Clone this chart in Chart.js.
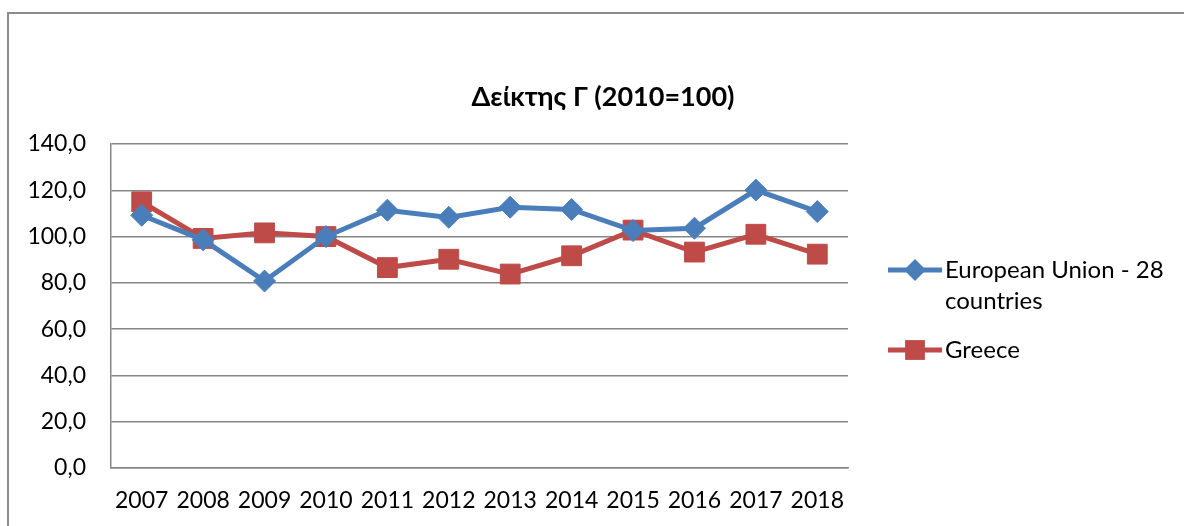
<!DOCTYPE html>
<html><head><meta charset="utf-8">
<script src="https://cdn.jsdelivr.net/npm/chart.js@4"></script>
<style>
html,body{margin:0;padding:0;background:#fff;overflow:hidden}
#wrap{position:relative;width:1184px;height:526px}
#frame{position:absolute;left:7px;top:12px;width:1300px;height:600px;border-left:2px solid #8c8c8c;border-top:2px solid #8c8c8c}
canvas{position:absolute;left:0;top:0}
</style></head>
<body><div id="wrap"><div id="frame"></div><canvas id="c" width="1184" height="526"></canvas></div>
<script>
const years = ['2007','2008','2009','2010','2011','2012','2013','2014','2015','2016','2017','2018'];
const euValues = [109.2, 98.6, 80.8, 100.0, 111.4, 108.3, 112.7, 111.7, 102.6, 103.6, 120.1, 110.8];
const greeceValues = [115.0, 99.2, 101.6, 100.0, 86.6, 90.2, 83.8, 91.7, 102.8, 93.3, 101.0, 92.4];
const seriesNames = [['European Union - 28', 'countries'], ['Greece']];
const titleText = 'Δείκτης Γ (2010=100)';

const FONT = 'Lato, "Open Sans", sans-serif';
const BLUE = '#4A7EBB', RED = '#BE4B48';

const customDraw = {
  id: 'customDraw',
  afterDraw(chart) {
    const ctx = chart.ctx;
    ctx.save();
    ctx.fillStyle = '#000';
    ctx.font = 'bold 27px ' + FONT;
    ctx.textAlign = 'center';
    ctx.textBaseline = 'middle';
    ctx.fillText(titleText, 603, 97);
    const rows = [270, 350];
    chart.data.datasets.forEach((ds, i) => {
      const y = rows[i];
      ctx.strokeStyle = ds.borderColor;
      ctx.lineWidth = ds.borderWidth;
      ctx.beginPath(); ctx.moveTo(888, y); ctx.lineTo(942, y); ctx.stroke();
      ctx.fillStyle = ds.backgroundColor;
      ctx.beginPath();
      if (ds.pointStyle === 'rectRot') {
        const r = ds.pointRadius;
        ctx.moveTo(915, y - r); ctx.lineTo(915 + r, y); ctx.lineTo(915, y + r); ctx.lineTo(915 - r, y); ctx.closePath();
      } else {
        const s = ds.pointRadius * Math.SQRT1_2;
        ctx.rect(915 - s, y - s, 2 * s, 2 * s);
      }
      ctx.fill();
      ctx.fillStyle = '#000';
      ctx.font = '24px ' + FONT;
      ctx.textAlign = 'left';
      seriesNames[i].forEach((line, j) => ctx.fillText(line, 945, y + j * 31));
    });
    ctx.restore();
  }
};

new Chart(document.getElementById('c'), {
  type: 'line',
  data: {
    labels: years,
    datasets: [
      {label: seriesNames[0].join(' '), data: euValues, borderColor: BLUE, backgroundColor: BLUE,
       borderWidth: 5, pointStyle: 'rectRot', pointRadius: 11, pointBorderWidth: 1, tension: 0},
      {label: seriesNames[1].join(' '), data: greeceValues, borderColor: RED, backgroundColor: RED,
       borderWidth: 5, pointStyle: 'rect', pointRadius: 14, pointBorderWidth: 1, tension: 0}
    ]
  },
  options: {
    responsive: false,
    animation: false,
    layout: {padding: {top: 144, right: 336, left: 0, bottom: 0}},
    plugins: {legend: {display: false}, title: {display: false}, tooltip: {enabled: false}},
    scales: {
      x: {
        offset: true,
        grid: {display: false, drawTicks: false},
        border: {display: true, color: '#868686', width: 1.5},
        ticks: {color: '#000', font: {family: FONT, size: 23}, padding: 19, maxRotation: 0, autoSkip: false},
        afterFit(s) { s.height = 58; }
      },
      y: {
        min: 0, max: 140,
        ticks: {stepSize: 20, color: '#000', font: {family: FONT, size: 23}, padding: 25,
                callback: v => v.toFixed(1).replace('.', ',')},
        grid: {color: '#868686', lineWidth: 1.5, drawTicks: false},
        border: {display: true, color: '#868686', width: 1.5},
        afterFit(s) { s.width = 111; }
      }
    }
  },
  plugins: [customDraw]
});
</script>
</body></html>
